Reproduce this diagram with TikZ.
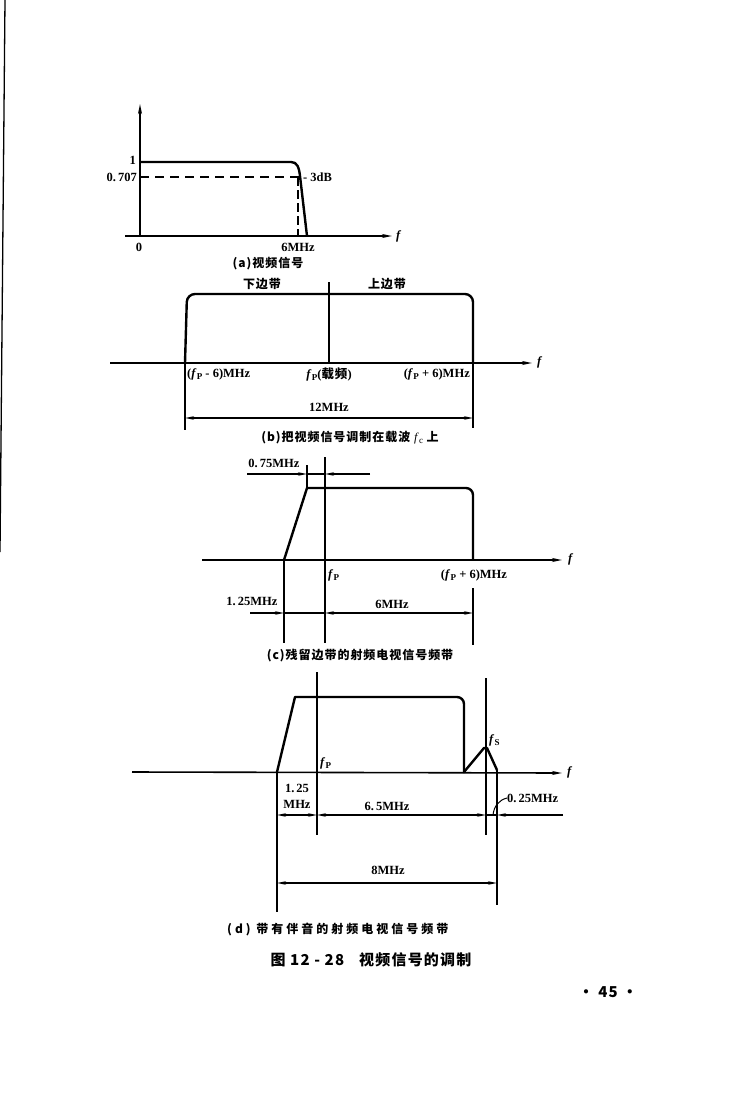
\documentclass[tikz,border=0pt]{standalone}
\usepackage{fontspec}
\setmainfont{Liberation Serif}
\newfontfamily\cjk{Noto Sans CJK SC}[LetterSpace=8]
\newfontfamily\cjkwide{Noto Sans CJK SC}[LetterSpace=25]
\usetikzlibrary{arrows.meta}
\newcommand\fsym[1]{\textit{f}\kern0.3pt\raisebox{-0.35ex}{\fontsize{9}{9}\selectfont #1}}
\begin{document}
\begin{tikzpicture}[x=1pt,y=-1pt,
  axisline/.style={line width=1.6pt,-{Stealth[length=10pt,width=4pt]}},
  sig/.style={line width=2.4pt,line join=round},
  vln/.style={line width=1.6pt},
  dimln/.style={line width=1.3pt},
  tipR/.style={-{Stealth[length=9pt,width=3.5pt]}},
  tipB/.style={{Stealth[length=9pt,width=3.5pt]}-{Stealth[length=9pt,width=3.5pt]}},
  lab/.style={font=\fontsize{12.5}{12.5}\selectfont\bfseries,inner sep=0pt},
  captxt/.style={font=\fontsize{12}{12}\selectfont\cjk\bfseries,inner sep=0pt}]
\useasboundingbox (0,0) rectangle (738,1120);
% scan edge
\draw[line width=1.3pt] (5,0) -- (0,552);

% ---------------- (a)
\draw[axisline] (140,236) -- (140,104);
\draw[axisline] (125,236) -- (392,236);
\draw[sig] (140,162) -- (291,162) .. controls (297,162) and (299,167) .. (300,176) -- (307,236);
\draw[line width=1.3pt,dash pattern=on 9pt off 6pt] (140,177) -- (300,177);
\draw[line width=1.3pt,dash pattern=on 9pt off 4pt] (298,177) -- (298,236);
\node[lab,anchor=east] (a1) at (136,160) {1};
\node[lab,anchor=east] (a707) at (137,177) {0.\,707};
\node[lab,anchor=west] (a3db) at (303,177) {- 3dB};
\node[lab] (a0) at (139,247) {0};
\node[lab] (a6) at (298,247) {6MHz};
\node[lab,anchor=west] (af) at (396,236) {\textit{f}};
\node[captxt] (acap) at (268,264) {(a)视频信号};

% ---------------- (b)
\draw[axisline] (110,363) -- (532,363);
\node[lab,anchor=west] (bf) at (537,362) {\textit{f}};
\draw[sig,rounded corners=8pt] (185,363) -- (187,294) -- (473,294) -- (473,363);
\draw[vln] (329,282) -- (329,363);
\draw[vln] (185,363) -- (185,430);
\draw[vln] (473,363) -- (473,428);
\draw[dimln,tipB] (185,418) -- (473,418);
\node[captxt] (blo) at (262,284) {下边带};
\node[captxt] (bup) at (387,284) {上边带};
\node[lab,anchor=west] (bl) at (187,374) {(\fsym{P} - 6)MHz};
\node[lab] (bc) at (329,374) {\fsym{P}({\cjk\bfseries 载频})};
\node[lab,anchor=east] (br) at (470,374) {(\fsym{P} + 6)MHz};
\node[lab] (b12) at (329,407) {12MHz};
\node[captxt] (bcap) at (350,438) {(b)把视频信号调制在载波 {\normalfont\fsym{c}} 上};

% ---------------- (c)
\draw[axisline] (202,560) -- (562,560);
\node[lab,anchor=west] (cf) at (568,559) {\textit{f}};
\draw[sig] (284,560) -- (307,488) -- (466,488) arc[start angle=90,end angle=0,radius=7pt] -- (473,560);
\draw[vln] (325,457) -- (325,643);
\draw[vln] (284,560) -- (284,643);
\draw[vln] (307,465) -- (307,488);
\draw[vln] (473,588) -- (473,645);
\draw[dimln] (307,474) -- (325,474);
\draw[dimln,tipR] (247,474) -- (307,474);
\draw[dimln,tipR] (370,474) -- (325,474);
\node[lab] (c075) at (274,463) {0.\,75MHz};
\draw[dimln,tipR] (250,613) -- (284,613);
\draw[dimln] (284,613) -- (325,613);
\draw[dimln,tipB] (325,613) -- (473,613);
\node[lab] (c125) at (252,601) {1.\,25MHz};
\node[lab] (c6) at (392,604) {6MHz};
\node[lab,anchor=west] (cfp) at (328,575) {\fsym{P}};
\node[lab] (cr) at (474,575) {(\fsym{P} + 6)MHz};
\node[captxt] (ccap) at (360,656) {(c)残留边带的射频电视信号频带};

% ---------------- (d)
\draw[axisline] (132,772) -- (562,773);
\node[lab,anchor=west] (df) at (567,772) {\textit{f}};
\draw[sig] (277,772) -- (295,697) -- (457,697) arc[start angle=90,end angle=0,radius=7pt] -- (464,773);
\draw[sig] (464,772) -- (484,748) -- (487,748) -- (497,770);
\draw[vln] (317,672) -- (317,835);
\draw[vln] (486,678) -- (486,835);
\draw[vln] (277,772) -- (277,912);
\draw[vln] (497,770) -- (497,905);
\draw[dimln,tipB] (277,815) -- (317,815);
\draw[dimln,tipB] (317,815) -- (486,815);
\draw[dimln] (486,815) -- (497,815);
\draw[dimln,tipR] (563,815) -- (497,815);
\node[lab] (d125a) at (297,788) {1.\,25};
\node[lab] (d125b) at (297,804) {MHz};
\node[lab] (d65) at (387,806) {6.\,5MHz};
\node[lab,anchor=west] (d025) at (507,798) {0.\,25MHz};
\coordinate (dlead) at (493,815);
\draw[line width=1pt] (d025.west) .. controls (499,800) and (494,806) .. (dlead);
\draw[dimln,tipB] (277,883) -- (497,883);
\node[lab] (d8) at (388,870) {8MHz};
\node[lab,anchor=west] (dfs) at (489,740) {\fsym{S}};
\node[lab,anchor=west] (dfp) at (320,763) {\fsym{P}};
\node[inner sep=0pt,anchor=west,font=\fontsize{12}{12}\selectfont\cjkwide\bfseries] (dcap) at (227,930) {(d) 带有伴音的射频电视信号频带};

% ---------------- figure caption and page number
\node[inner sep=0pt,font=\fontsize{15}{15}\selectfont\cjk\bfseries] (fig) at (371,960) {图 12 - 28\quad 视频信号的调制};
\node[inner sep=0pt,font=\fontsize{15}{15}\selectfont\cjk\bfseries] (page) at (608,992) {·\ 45\ ·};
\end{tikzpicture}
\end{document}
